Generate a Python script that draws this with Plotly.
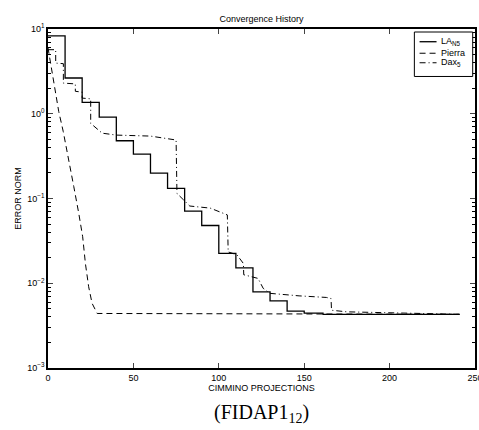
import plotly.graph_objects as go

# LA_N5 (solid, step function)
la_x = [0, 10, 20, 30, 40, 50, 60, 70, 80, 90, 100, 110, 120, 130, 140, 150, 161, 241]
la_y = [8.3, 2.64, 1.36, 0.91, 0.48, 0.333, 0.199, 0.132, 0.071, 0.048, 0.0225, 0.0152,
        0.0079, 0.0062, 0.0047, 0.00445, 0.0043, 0.0043]

# Pierra (dashed)
pi_x = [0, 1, 2.5, 4.4, 6.3, 8.9, 11.2, 15.1, 18, 20.3, 21.9, 23.8, 25.8, 28.8, 241]
pi_y = [6.0, 4.5, 2.88, 1.83, 1.06, 0.62, 0.342, 0.138, 0.067, 0.0354, 0.0171, 0.0091,
        0.0058, 0.0044, 0.0043]

# Dax_5 (dash-dot)
dax_x = [0, 4.5, 4.5, 9, 9, 16, 16, 20, 20, 25, 25, 31.7, 40, 60, 75, 75.5, 83, 95, 105,
         105.5, 110.6, 114.4, 114.6, 123, 126, 130, 147, 163, 165.7, 166, 175, 188, 200, 241]
dax_y = [5.7, 5.7, 3.96, 3.9, 2.3, 2.25, 1.84, 1.8, 1.53, 1.5, 0.77, 0.59, 0.56, 0.545, 0.49,
         0.115, 0.0815, 0.077, 0.064, 0.0234, 0.0217, 0.0171, 0.0126, 0.0114, 0.0087, 0.0076,
         0.0071, 0.0068, 0.0066, 0.0048, 0.0046, 0.00454, 0.0044, 0.0043]

x_ticks = [0, 50, 100, 150, 200, 250]
y_ticks = [1e-3, 1e-2, 1e-1, 1e0, 1e1]
y_ticktext = ["10<sup>\u22123</sup>", "10<sup>\u22122</sup>", "10<sup>\u22121</sup>",
              "10<sup>0</sup>", "10<sup>1</sup>"]
y_minor = [m * 10.0 ** e for e in range(-3, 1) for m in range(2, 10)]

legend_names = ["LA<sub>N5</sub>", "Pierra", "Dax<sub>5</sub>"]
legend_dash = ["solid", "6px,4px", "6px,3px,1px,3px"]
legend_width = [1.3, 1, 1]

FONT = "Liberation Sans, Arial, sans-serif"

fig = go.Figure()
fig.add_trace(go.Scatter(x=la_x, y=la_y, mode="lines", name=legend_names[0],
                         line=dict(color="black", width=legend_width[0], shape="hv")))
fig.add_trace(go.Scatter(x=pi_x, y=pi_y, mode="lines", name=legend_names[1],
                         line=dict(color="black", width=legend_width[1], dash=legend_dash[1])))
fig.add_trace(go.Scatter(x=dax_x, y=dax_y, mode="lines", name=legend_names[2],
                         line=dict(color="black", width=legend_width[2], dash=legend_dash[2])))

fig.update_layout(
    width=479, height=430,
    margin=dict(l=47.5, r=4, t=29.3, b=62.3, autoexpand=False),
    paper_bgcolor="white", plot_bgcolor="white",
    font=dict(family=FONT, size=9, color="black"),
    title=dict(text="Convergence History", xref="paper", x=0.5, xanchor="center",
               y=0.957, yanchor="middle", font=dict(size=9)),
    showlegend=False,
)
fig.update_xaxes(range=[0, 250], tickvals=x_ticks, ticks="inside", ticklen=5,
                 showline=True, linecolor="black", linewidth=1.5, mirror="ticks",
                 showgrid=False, zeroline=False, ticklabeloverflow="allow", automargin=False,
                 title=dict(text="CIMMINO PROJECTIONS", font=dict(size=9), standoff=2))
fig.update_yaxes(type="log", range=[-3, 1], tickvals=y_ticks, ticktext=y_ticktext,
                 ticks="inside", ticklen=5, automargin=False,
                 showline=True, linecolor="black", linewidth=1.5, mirror="ticks",
                 showgrid=False, zeroline=False,
                 minor=dict(tickvals=y_minor, ticks="inside", ticklen=3, showgrid=False,
                            tickcolor="black"),
                 title=dict(text="ERROR NORM", font=dict(size=9), standoff=4))

# custom legend box (paper coordinates)
def px2paper(px, py):
    return (px - 47.5) / 427.5, (367.7 - py) / 338.4

x0, y0 = px2paper(414.3, 76.7)
x1, y1 = px2paper(472.7, 32.3)
fig.add_shape(type="rect", xref="paper", yref="paper", x0=x0, y0=y0, x1=x1, y1=y1,
              line=dict(color="black", width=1), fillcolor="white", layer="above")
row_y = [42.0, 53.5, 63.0]
for name, dash, w, ry in zip(legend_names, legend_dash, legend_width, row_y):
    lx0, ly = px2paper(419.5, ry)
    lx1, _ = px2paper(436.5, ry)
    fig.add_shape(type="line", xref="paper", yref="paper", x0=lx0, x1=lx1, y0=ly, y1=ly,
                  line=dict(color="black", width=w, dash=dash), layer="above")
    tx, ty = px2paper(439.5, ry)
    fig.add_annotation(text=name, xref="paper", yref="paper", x=tx, y=ty,
                       xanchor="left", yanchor="middle", showarrow=False,
                       font=dict(size=9), borderpad=0)

fig.add_annotation(text="(FIDAP1<sub>12</sub>)", xref="paper", yref="paper",
                   x=0.5, y=-0.135, xanchor="center", yanchor="middle", showarrow=False,
                   font=dict(family="Liberation Serif, Times New Roman, serif", size=20))

fig.write_html("out.html")
